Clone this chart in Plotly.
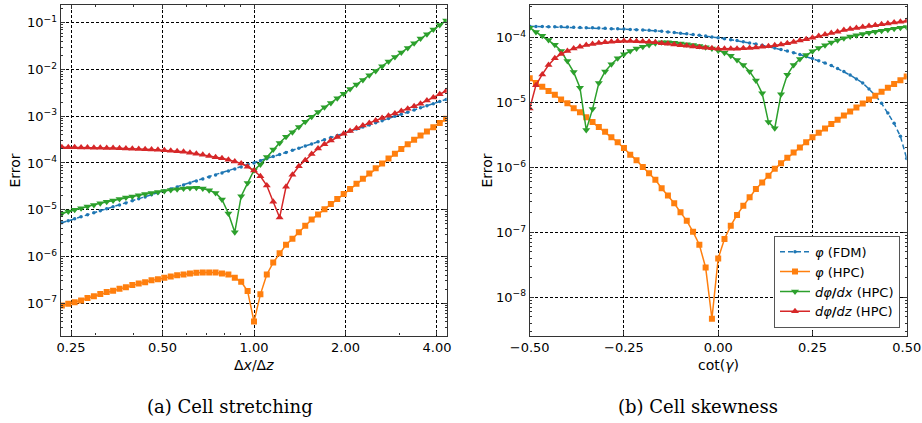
import plotly.graph_objects as go

# ---------------- data: (a) cell stretching ----------------
# sampling grid of dx/dz (61 points, log-spaced between 2^-2.1 and 2^2.1)
dx_dz = [round(2 ** (-2.1 + 0.07 * k), 5) for k in range(61)]

a_phi_fdm = [5.25e-6, 5.79e-6, 6.38e-6, 7.05e-6, 7.78e-6, 8.57e-6, 9.46e-6, 1.045e-5, 1.153e-5, 1.27e-5,
             1.40e-5, 1.55e-5, 1.71e-5, 1.88e-5, 2.08e-5, 2.29e-5, 2.53e-5, 2.79e-5, 3.08e-5, 3.40e-5,
             3.75e-5, 4.14e-5, 4.56e-5, 5.04e-5, 5.56e-5, 6.12e-5, 6.76e-5, 7.46e-5, 8.22e-5, 9.08e-5,
             1.00e-4, 1.11e-4, 1.23e-4, 1.37e-4, 1.52e-4, 1.68e-4, 1.87e-4, 2.07e-4, 2.30e-4, 2.56e-4,
             2.84e-4, 3.15e-4, 3.50e-4, 3.88e-4, 4.31e-4, 4.79e-4, 5.31e-4, 5.89e-4, 6.53e-4, 7.26e-4,
             8.05e-4, 8.94e-4, 9.93e-4, 1.10e-3, 1.22e-3, 1.36e-3, 1.51e-3, 1.67e-3, 1.85e-3, 2.06e-3,
             2.29e-3]
a_phi_hpc = [8.93e-8, 9.70e-8, 1.05e-7, 1.15e-7, 1.29e-7, 1.41e-7, 1.58e-7, 1.74e-7, 1.86e-7, 2.04e-7,
             2.19e-7, 2.45e-7, 2.63e-7, 2.82e-7, 3.09e-7, 3.24e-7, 3.51e-7, 3.72e-7, 3.98e-7, 4.12e-7,
             4.34e-7, 4.47e-7, 4.57e-7, 4.57e-7, 4.57e-7, 4.34e-7, 4.12e-7, 3.51e-7, 2.88e-7, 1.82e-7,
             4.07e-8, 1.55e-7, 4.12e-7, 7.41e-7, 1.17e-6, 1.78e-6, 2.40e-6, 3.31e-6, 4.57e-6, 6.17e-6,
             7.94e-6, 1.02e-5, 1.32e-5, 1.70e-5, 2.16e-5, 2.79e-5, 3.59e-5, 4.62e-5, 5.96e-5, 7.67e-5,
             9.77e-5, 1.24e-4, 1.58e-4, 2.00e-4, 2.51e-4, 3.13e-4, 3.85e-4, 4.73e-4, 5.82e-4, 7.16e-4,
             8.81e-4]
a_dphi_dx = [8.32e-6, 9.12e-6, 1.00e-5, 1.08e-5, 1.17e-5, 1.27e-5, 1.38e-5, 1.48e-5, 1.58e-5, 1.70e-5,
             1.82e-5, 1.93e-5, 2.04e-5, 2.16e-5, 2.29e-5, 2.40e-5, 2.51e-5, 2.63e-5, 2.75e-5, 2.85e-5,
             2.92e-5, 2.95e-5, 2.85e-5, 2.60e-5, 2.29e-5, 1.66e-5, 8.3e-6, 3.3e-6, 1.95e-5, 3.72e-5,
             6.98e-5, 9.33e-5, 1.35e-4, 1.95e-4, 2.69e-4, 3.63e-4, 4.57e-4, 5.89e-4, 7.59e-4, 9.77e-4,
             1.23e-3, 1.55e-3, 1.93e-3, 2.43e-3, 3.02e-3, 3.80e-3, 4.79e-3, 5.96e-3, 7.50e-3, 9.33e-3,
             1.17e-2, 1.48e-2, 1.84e-2, 2.32e-2, 2.88e-2, 3.63e-2, 4.57e-2, 5.69e-2, 7.16e-2, 8.91e-2,
             1.12e-1]
a_dphi_dz = [2.17e-4, 2.17e-4, 2.16e-4, 2.15e-4, 2.14e-4, 2.13e-4, 2.11e-4, 2.10e-4, 2.08e-4, 2.07e-4,
             2.04e-4, 2.02e-4, 2.00e-4, 1.97e-4, 1.94e-4, 1.91e-4, 1.87e-4, 1.83e-4, 1.79e-4, 1.73e-4,
             1.66e-4, 1.58e-4, 1.50e-4, 1.41e-4, 1.33e-4, 1.26e-4, 1.17e-4, 1.07e-4, 9.8e-5, 8.3e-5,
             6.9e-5, 5.2e-5, 3.3e-5, 1.48e-5, 6.8e-6, 3.1e-5, 5.6e-5, 8.5e-5, 1.15e-4, 1.55e-4,
             2.04e-4, 2.51e-4, 3.02e-4, 3.59e-4, 4.22e-4, 4.84e-4, 5.56e-4, 6.31e-4, 7.16e-4, 8.13e-4,
             9.12e-4, 1.02e-3, 1.15e-3, 1.29e-3, 1.45e-3, 1.64e-3, 1.86e-3, 2.16e-3, 2.51e-3, 2.95e-3,
             3.47e-3]

# ---------------- data: (b) cell skewness ----------------
cot_gamma = [round(-0.5 + k / 60, 5) for k in range(61)]

b_phi_fdm = [1.50e-4, 1.49e-4, 1.49e-4, 1.48e-4, 1.47e-4, 1.47e-4, 1.46e-4, 1.45e-4, 1.44e-4, 1.43e-4,
             1.42e-4, 1.41e-4, 1.40e-4, 1.38e-4, 1.37e-4, 1.36e-4, 1.34e-4, 1.33e-4, 1.31e-4, 1.30e-4,
             1.28e-4, 1.26e-4, 1.23e-4, 1.20e-4, 1.17e-4, 1.15e-4, 1.12e-4, 1.09e-4, 1.06e-4, 1.03e-4,
             1.00e-4, 9.66e-5, 9.33e-5, 9.02e-5, 8.67e-5, 8.32e-5, 7.98e-5, 7.64e-5, 7.29e-5, 6.95e-5,
             6.61e-5, 6.24e-5, 5.89e-5, 5.50e-5, 5.13e-5, 4.79e-5, 4.42e-5, 4.07e-5, 3.72e-5, 3.35e-5,
             3.02e-5, 2.66e-5, 2.32e-5, 2.00e-5, 1.62e-5, 1.29e-5, 9.77e-6, 6.92e-6, 4.79e-6, 3.02e-6,
             1.38e-6]
b_phi_hpc = [2.37e-5, 2.00e-5, 1.76e-5, 1.51e-5, 1.32e-5, 1.12e-5, 9.77e-6, 8.18e-6, 7.08e-6, 5.94e-6,
             5.01e-6, 4.22e-6, 3.55e-6, 2.92e-6, 2.45e-6, 2.00e-6, 1.58e-6, 1.29e-6, 1.02e-6, 8.13e-7,
             6.46e-7, 4.79e-7, 3.72e-7, 2.82e-7, 2.04e-7, 1.51e-7, 1.02e-7, 6.46e-8, 2.88e-8, 4.68e-9,
             3.98e-8, 7.94e-8, 1.27e-7, 1.86e-7, 2.57e-7, 3.47e-7, 4.68e-7, 5.89e-7, 7.50e-7, 9.55e-7,
             1.16e-6, 1.41e-6, 1.70e-6, 2.04e-6, 2.45e-6, 2.92e-6, 3.43e-6, 4.01e-6, 4.68e-6, 5.43e-6,
             6.31e-6, 7.29e-6, 8.41e-6, 9.70e-6, 1.12e-5, 1.28e-5, 1.47e-5, 1.69e-5, 1.94e-5, 2.21e-5,
             2.53e-5]
b_dphi_dx = [1.43e-4, 1.23e-4, 1.07e-4, 9.23e-5, 7.76e-5, 6.24e-5, 4.37e-5, 2.95e-5, 1.70e-5, 3.80e-6,
             7.94e-6, 2.00e-5, 3.02e-5, 3.89e-5, 4.81e-5, 5.55e-5, 6.24e-5, 6.85e-5, 7.28e-5, 7.73e-5,
             8.22e-5, 8.49e-5, 8.49e-5, 8.38e-5, 8.18e-5, 7.91e-5, 7.73e-5, 7.45e-5, 7.11e-5, 6.85e-5,
             6.38e-5, 5.89e-5, 5.28e-5, 4.54e-5, 3.80e-5, 3.02e-5, 2.19e-5, 1.39e-5, 5.01e-6, 4.03e-6,
             1.35e-5, 2.69e-5, 3.80e-5, 4.68e-5, 5.43e-5, 6.17e-5, 6.92e-5, 7.67e-5, 8.41e-5, 9.12e-5,
             9.77e-5, 1.04e-4, 1.09e-4, 1.14e-4, 1.19e-4, 1.24e-4, 1.28e-4, 1.33e-4, 1.37e-4, 1.42e-4,
             1.46e-4]
b_dphi_dz = [8.13e-6, 1.86e-5, 2.72e-5, 3.80e-5, 4.81e-5, 5.62e-5, 6.24e-5, 6.85e-5, 7.28e-5, 7.73e-5,
             8.00e-5, 8.28e-5, 8.49e-5, 8.69e-5, 8.79e-5, 8.89e-5, 8.89e-5, 8.85e-5, 8.77e-5, 8.65e-5,
             8.51e-5, 8.22e-5, 8.04e-5, 7.85e-5, 7.67e-5, 7.50e-5, 7.33e-5, 7.16e-5, 7.00e-5, 6.89e-5,
             6.79e-5, 6.76e-5, 6.76e-5, 6.79e-5, 6.87e-5, 6.97e-5, 7.08e-5, 7.24e-5, 7.41e-5, 7.62e-5,
             7.85e-5, 8.22e-5, 8.61e-5, 9.06e-5, 9.51e-5, 1.00e-4, 1.06e-4, 1.12e-4, 1.18e-4, 1.24e-4,
             1.31e-4, 1.36e-4, 1.41e-4, 1.46e-4, 1.51e-4, 1.56e-4, 1.61e-4, 1.66e-4, 1.71e-4, 1.76e-4,
             1.81e-4]

# tick labels
a_xticks = [0.25, 0.5, 1, 2, 4]
a_xticklabels = ["0.25", "0.50", "1.00", "2.00", "4.00"]
a_xminor = [0.3, 0.4, 0.6, 0.7, 0.8, 0.9, 3]
a_yexp = [-7, -6, -5, -4, -3, -2, -1]
b_xticks = [-0.5, -0.25, 0.0, 0.25, 0.5]
b_xticklabels = ["\u22120.50", "\u22120.25", "0.00", "0.25", "0.50"]
b_yexp = [-8, -7, -6, -5, -4]

names = ["<i>\u03c6</i> (FDM)", "<i>\u03c6</i> (HPC)",
         "<i>d\u03c6</i><b>/</b><i>dx</i> (HPC)", "<i>d\u03c6</i><b>/</b><i>dz</i> (HPC)"]
colors = ["#1f77b4", "#ff7f0e", "#2ca02c", "#d62728"]

W, H = 922, 423


def px(x):
    return x / W


def py(y):
    return 1 - y / H


fig = go.Figure()


def add_series(x, ys, xa, ya, show):
    styles = [
        dict(mode="lines+markers", line=dict(color=colors[0], width=1.5, dash="5px,3px"),
             marker=dict(symbol="circle", size=3.5, color=colors[0])),
        dict(mode="lines+markers", line=dict(color=colors[1], width=1.5),
             marker=dict(symbol="square", size=6, color=colors[1])),
        dict(mode="lines+markers", line=dict(color=colors[2], width=1.5),
             marker=dict(symbol="triangle-down", size=7, color=colors[2])),
        dict(mode="lines+markers", line=dict(color=colors[3], width=1.5),
             marker=dict(symbol="triangle-up", size=7, color=colors[3])),
    ]
    for i, y in enumerate(ys):
        fig.add_trace(go.Scatter(x=x, y=y, name=names[i], xaxis=xa, yaxis=ya,
                                 showlegend=show, **styles[i]))


add_series(dx_dz, [a_phi_fdm, a_phi_hpc, a_dphi_dx, a_dphi_dz], "x", "y", False)
add_series(cot_gamma, [b_phi_fdm, b_phi_hpc, b_dphi_dx, b_dphi_dz], "x2", "y2", True)

ydom = [py(335.5), py(5)]
tickfont = dict(family="DejaVu Sans", size=13, color="black")
common = dict(showline=True, linecolor="#333333", linewidth=1.2, mirror="ticks",
              ticks="inside", ticklen=4, tickwidth=1, tickcolor="#333333",
              showgrid=True, gridcolor="black", gridwidth=0.8, griddash="3px,2px",
              zeroline=False, tickfont=tickfont, automargin=False)


def yminor(exps):
    vals = []
    for e in range(min(exps) - 1, max(exps) + 1):
        for m in range(2, 10):
            vals.append(m * 10.0 ** e)
    return vals


fig.update_layout(
    width=W, height=H, autosize=False, margin=dict(l=0, r=0, t=0, b=0, pad=0),
    paper_bgcolor="white", plot_bgcolor="white",
    xaxis=dict(domain=[px(60.7), px(446.7)], type="log", range=[-0.636, 0.634],
               tickmode="array", tickvals=a_xticks, ticktext=a_xticklabels,
               minor=dict(tickmode="array", tickvals=a_xminor, ticks="inside", ticklen=2,
                          tickcolor="#333333", showgrid=False),
               anchor="y", **common),
    yaxis=dict(domain=ydom, type="log", range=[-7.69, -0.621],
               tickmode="array", tickvals=[10.0 ** e for e in a_yexp],
               ticktext=["10<sup>\u2212%d</sup>" % (-e) for e in a_yexp],
               minor=dict(tickmode="array", tickvals=yminor(a_yexp), ticks="inside", ticklen=2,
                          tickcolor="#333333", showgrid=False),
               anchor="x", **common),
    xaxis2=dict(domain=[px(529.7), px(906.7)], range=[-0.5, 0.5],
                tickmode="array", tickvals=b_xticks, ticktext=b_xticklabels,
                anchor="y2", **common),
    yaxis2=dict(domain=ydom, type="log", range=[-8.588, -3.496],
                tickmode="array", tickvals=[10.0 ** e for e in b_yexp],
                ticktext=["10<sup>\u2212%d</sup>" % (-e) for e in b_yexp],
                minor=dict(tickmode="array", tickvals=yminor(b_yexp), ticks="inside", ticklen=2,
                           tickcolor="#333333", showgrid=False),
                anchor="x2", **common),
    legend=dict(x=px(900), y=py(327.7), xanchor="right", yanchor="bottom",
                bgcolor="white", bordercolor="#555555", borderwidth=1,
                font=dict(family="DejaVu Sans", size=13, color="black"),
                tracegroupgap=0, itemwidth=30),
    showlegend=True,
)

ann_font = dict(family="DejaVu Sans", size=14, color="black")
cap_font = dict(family="DejaVu Serif", size=18, color="black")
annotations = [
    dict(text="Error", x=px(14), y=py(170.5), textangle=-90, font=ann_font),
    dict(text="Error", x=px(486), y=py(170.5), textangle=-90, font=ann_font),
    dict(text="\u0394<i>x</i>/\u0394<i>z</i>", x=px(254), y=py(365), font=ann_font),
    dict(text="cot(<i>\u03b3</i>)", x=px(718), y=py(365), font=ann_font),
    dict(text="(a) Cell stretching", x=px(229.5), y=py(406), font=cap_font),
    dict(text="(b) Cell skewness", x=px(698), y=py(406), font=cap_font),
]
for a in annotations:
    a.update(xref="paper", yref="paper", showarrow=False, xanchor="center", yanchor="middle")
fig.update_layout(annotations=annotations)

fig.write_html("out.html", post_script="document.body.style.margin='0';")
